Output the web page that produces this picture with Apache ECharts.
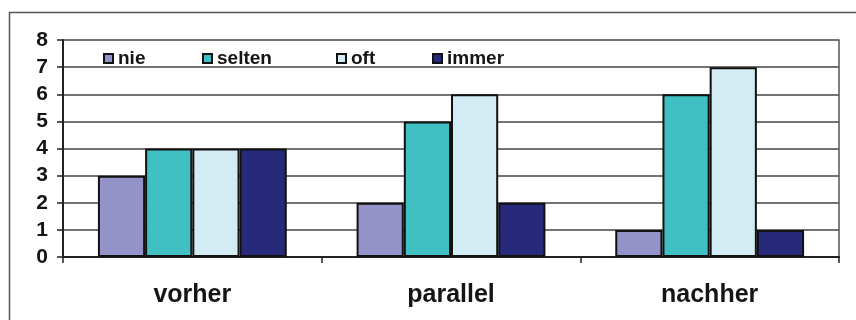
<!DOCTYPE html>
<html><head><meta charset="utf-8">
<script src="https://cdn.jsdelivr.net/npm/echarts@6/dist/echarts.min.js"></script>
<style>html,body{margin:0;padding:0;background:#fff}#c{width:856px;height:320px}</style>
</head><body><div id="c"></div>
<script>
const categories = ['vorher', 'parallel', 'nachher'];
const seriesNames = ['nie', 'selten', 'oft', 'immer'];
const nie = [3, 2, 1];
const selten = [4, 5, 6];
const oft = [4, 6, 7];
const immer = [4, 2, 1];
const yTicks = [0, 1, 2, 3, 4, 5, 6, 7, 8];

const colors = ['#9392c9', '#40c0c2', '#d3ebf3', '#27297a'];
const values = [nie, selten, oft, immer];
const legendLefts = [98, 197, 331, 427];

const chart = echarts.init(document.getElementById('c'));
const font = 'Liberation Sans, Arial, sans-serif';
chart.setOption({
  animation: false,
  backgroundColor: '#fff',
  graphic: [{
    type: 'rect', left: 7, top: 10, shape: { width: 900, height: 400 },
    style: { fill: 'none', stroke: '#555', lineWidth: 1.5 }, silent: true
  }],
  grid: { left: 63, right: 17, top: 40, bottom: 63, containLabel: false },
  legend: seriesNames.map((n, i) => ({
    data: [n], left: legendLefts[i], top: 44, itemWidth: 9, itemHeight: 9, itemGap: 0,
    textStyle: { fontFamily: font, fontSize: 19, fontWeight: 'bold', color: '#151515', padding: [0, 0, 0, 0] },
    icon: 'rect'
  })),
  xAxis: {
    type: 'category', data: categories,
    axisLine: { lineStyle: { color: '#222', width: 2 } },
    axisTick: { show: true, length: 6, lineStyle: { color: '#222', width: 1.5 } },
    axisLabel: { fontFamily: font, fontSize: 25, fontWeight: 'bold', color: '#151515', margin: 26 }
  },
  yAxis: [{
    type: 'value', min: 0, max: 8, interval: 1,
    axisLine: { show: true, lineStyle: { color: '#222', width: 2 } },
    axisTick: { show: true, length: 6, lineStyle: { color: '#222', width: 1.5 } },
    axisLabel: { fontFamily: font, fontSize: 21, fontWeight: 'bold', color: '#151515', margin: 15,
      formatter: v => yTicks.includes(v) ? String(v) : '' },
    splitLine: { show: true, lineStyle: { color: '#444', width: 1.5 } }
  }, {
    type: 'value', min: 0, max: 8, interval: 1, position: 'right',
    axisLine: { show: true, lineStyle: { color: '#555', width: 1.5 } },
    axisTick: { show: false }, axisLabel: { show: false }, splitLine: { show: false }
  }],
  series: seriesNames.map((n, i) => ({
    name: n, type: 'bar', data: values[i], yAxisIndex: 0,
    barGap: '0%', barCategoryGap: '27%',
    itemStyle: { color: colors[i], borderColor: '#111', borderWidth: 2 }
  }))
});
</script></body></html>
